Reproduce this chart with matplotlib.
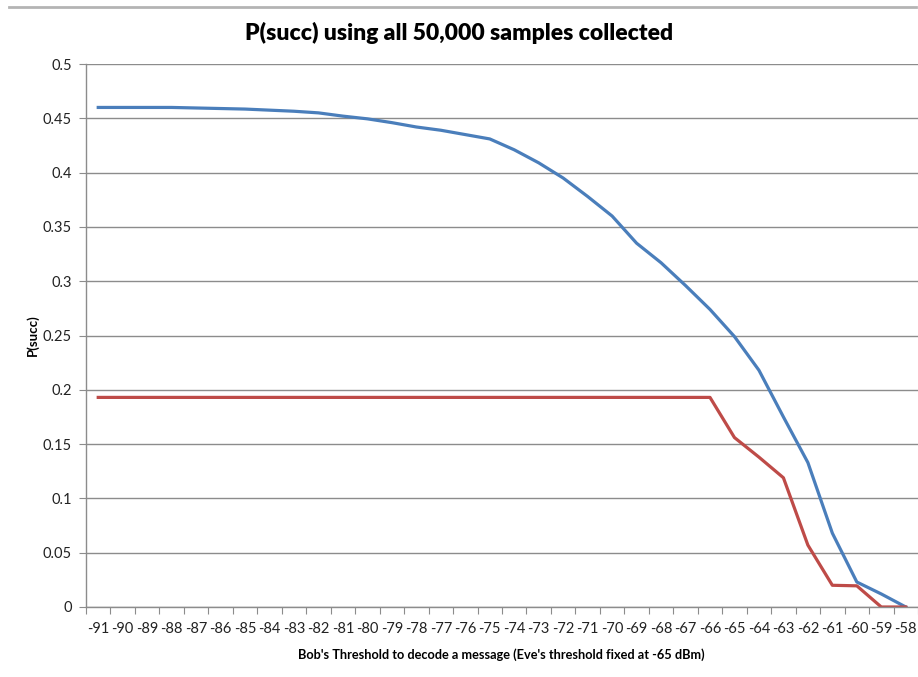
import matplotlib.pyplot as plt
import numpy as np
from matplotlib.lines import Line2D

plt.rcParams['font.family'] = ['Lato', 'DejaVu Sans']

# Bob's threshold (dBm)
thresholds = list(range(-91, -57))
tick_labels = [str(t) for t in thresholds]

# P(succ) for the two series
p_blue = [0.460, 0.460, 0.460, 0.460, 0.4595, 0.459, 0.4585, 0.4575, 0.4565, 0.455,
          0.452, 0.4495, 0.446, 0.442, 0.439, 0.435, 0.431, 0.421, 0.409, 0.395,
          0.378, 0.360, 0.335, 0.317, 0.296, 0.274, 0.249, 0.218, 0.175, 0.133,
          0.068, 0.023, 0.012, 0.0]
p_red = [0.193] * 26 + [0.156, 0.138, 0.119, 0.057, 0.020, 0.0195, 0.0, 0.0]

fig = plt.figure(figsize=(9.18, 6.77), dpi=100)
ax = fig.add_axes([86 / 918, 1 - 607 / 677, 832 / 918, 543 / 677])

x = np.arange(len(thresholds))
ax.plot(x, p_blue, color='#4a7ebb', linewidth=2.3, solid_joinstyle='round')
ax.plot(x, p_red, color='#be4b48', linewidth=2.3, solid_joinstyle='round')

ax.set_xlim(-0.5, len(thresholds) - 0.5)
ax.set_ylim(0, 0.5)
yt = np.arange(0, 0.501, 0.05)
ax.set_yticks(yt)
ax.set_yticklabels(['0'] + ['%g' % round(v, 2) for v in yt[1:]])
ax.yaxis.grid(True, color='#8c8c8c', linewidth=1)
ax.set_axisbelow(True)

# category axis: ticks between categories, labels at centres
ax.set_xticks(np.arange(-0.5, len(thresholds), 1.0))
ax.set_xticklabels([])
ax.set_xticks(x, minor=True)
ax.set_xticklabels(tick_labels, minor=True)
ax.tick_params(axis='x', which='major', length=5, color='#8c8c8c', direction='out')
ax.tick_params(axis='x', which='minor', length=0, pad=11, labelsize=10.5, labelcolor='#222222')
ax.tick_params(axis='y', length=5, color='#8c8c8c', labelsize=10.5, labelcolor='#222222', pad=5)

for s in ['top', 'right']:
    ax.spines[s].set_visible(False)
for s in ['left', 'bottom']:
    ax.spines[s].set_color('#8c8c8c')
    ax.spines[s].set_linewidth(1)

ax.set_xlabel("Bob's Threshold to decode a message (Eve's threshold fixed at -65 dBm)",
              fontsize=9.2, fontweight='bold', va='center')
ax.xaxis.set_label_coords(0.4994, -48 / 543)
ax.set_ylabel('P(succ)', fontsize=9.5, fontweight='bold', va='center')
ax.yaxis.set_label_coords(-53 / 832, (607 - 335) / 543)
fig.text(0.5, 1 - 33 / 677, 'P(succ) using all 50,000 samples collected',
         ha='center', va='center', fontsize=16.5, fontweight='heavy')

# top border of the chart area
fig.add_artist(Line2D([9 / 918, 916 / 918], [1 - 6.5 / 677, 1 - 6.5 / 677],
                      color='#b4b4b4', linewidth=2))

fig.savefig('out.png', dpi=100)
